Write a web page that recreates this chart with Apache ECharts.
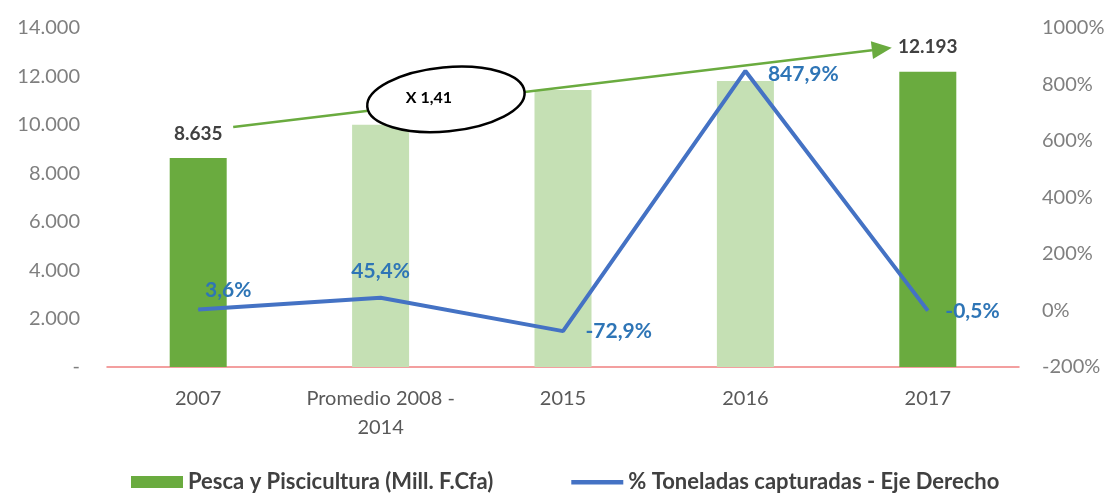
<!DOCTYPE html>
<html><head><meta charset="utf-8">
<script src="https://cdn.jsdelivr.net/npm/echarts@6/dist/echarts.min.js"></script>
<style>html,body{margin:0;padding:0;background:#fff}#c{width:1112px;height:493px}</style>
</head><body><div id="c"></div>
<script>
var categories = ['2007', 'Promedio 2008 -\n2014', '2015', '2016', '2017'];
var barValues = [8635, 10000, 11440, 11810, 12193];
var barColors = ['#6aab3f', '#c5e0b4', '#c5e0b4', '#c5e0b4', '#6aab3f'];
var barLabelShown = [true, false, false, false, true];
var pctValues = [3.6, 45.4, -72.9, 847.9, -0.5];
var leftTicks = [0, 2000, 4000, 6000, 8000, 10000, 12000, 14000];
var rightTicks = [-200, 0, 200, 400, 600, 800, 1000];
var seriesNames = ['Pesca y Piscicultura (Mill. F.Cfa)', '% Toneladas capturadas - Eje Derecho'];
var growthText = 'X 1,41';

var FONT = 'Lato';
function thous(v){ return String(v).replace(/\B(?=(\d{3})+(?!\d))/g, '.'); }
function pct(v){ return v.toFixed(1).replace('.', ',') + '%'; }

var pctLabelPos = [
  {position:'top', offset:[30,-3]},
  {position:'top', offset:[0,-10]},
  {position:'right', offset:[17,0]},
  {position:'right', offset:[17,3]},
  {position:'right', offset:[12,1]}
];

var chart = echarts.init(document.getElementById('c'), null, {renderer:'canvas'});
var option = {
  animation:false,
  textStyle:{fontFamily:FONT},
  grid:{left:107, right:93, top:28, bottom:126},
  legend:{
    left:126, bottom:-5, itemGap:78, itemWidth:52, itemHeight:12,
    textStyle:{fontFamily:FONT, fontSize:22, fontWeight:'bold', color:'#404040'},
    data:[
      {name:seriesNames[0], icon:'rect', itemStyle:{color:'#6aab3f'}},
      {name:seriesNames[1], icon:'path://M0,0h0.01v0.01h-0.01z M0,4h52v4.5h-52z M0,11.99h0.01v0.01h-0.01z',
       itemStyle:{color:'#4472c4'}}
    ]
  },
  xAxis:{
    type:'category', data:categories,
    axisLine:{show:true, lineStyle:{color:'#f08080', width:1.5}},
    axisTick:{show:false},
    axisLabel:{color:'#595959', fontSize:20, fontFamily:FONT, lineHeight:29, margin:17, interval:0}
  },
  yAxis:[
    {type:'value', min:leftTicks[0], max:leftTicks[leftTicks.length-1], interval:2000,
     splitLine:{show:false}, axisLine:{show:false}, axisTick:{show:false},
     axisLabel:{color:'#7f7f7f', fontSize:20, fontFamily:FONT, margin:27,
       formatter:function(v){ return v === 0 ? '-' : thous(v); }}},
    {type:'value', min:rightTicks[0], max:rightTicks[rightTicks.length-1], interval:200,
     splitLine:{show:false}, axisLine:{show:false}, axisTick:{show:false},
     axisLabel:{color:'#7f7f7f', fontSize:20, fontFamily:FONT, margin:23,
       formatter:function(v){ return v + '%'; }}}
  ],
  series:[
    {name:seriesNames[0], type:'bar', yAxisIndex:0, barWidth:57,
     itemStyle:{color:'#6aab3f'},
     data:barValues.map(function(v,i){
       return {value:v, itemStyle:{color:barColors[i]},
         label:{show:barLabelShown[i], position:'top', offset:[0,-10],
           formatter:function(p){return thous(p.value);},
           color:'#404040', fontWeight:'bold', fontSize:19, fontFamily:FONT}};
     })},
    {name:seriesNames[1], type:'line', yAxisIndex:1, symbol:'circle', symbolSize:1, showSymbol:true,
     lineStyle:{color:'#4472c4', width:4}, itemStyle:{color:'#4472c4'},
     z:5,
     data:pctValues.map(function(v,i){
       return {value:v, label:{show:true, position:pctLabelPos[i].position, offset:pctLabelPos[i].offset,
         formatter:function(p){return pct(p.value);},
         color:'#2e75b6', fontWeight:'bold', fontSize:21, fontFamily:FONT}};
     })}
  ]
};
chart.setOption(option);

// annotation arrow + ellipse, anchored to the first and last bars
var p0 = chart.convertToPixel({xAxisIndex:0, yAxisIndex:0}, [0, barValues[0]]);
var p4 = chart.convertToPixel({xAxisIndex:0, yAxisIndex:0}, [4, barValues[4]]);
var sx = p0[0] + 35, sy = p0[1] - 31;
var ex = p4[0] - 36, ey = p4[1] - 24;
var ang = Math.atan2(ey - sy, ex - sx);
var hl = 20, hw = 9;
var bx = ex - hl*Math.cos(ang), by = ey - hl*Math.sin(ang);
var nx = -Math.sin(ang), ny = Math.cos(ang);
var t = 0.323;
var cx = sx + (ex-sx)*t, cy = sy + (ey-sy)*t - 2;
chart.setOption({graphic:[
  {type:'line', shape:{x1:sx, y1:sy, x2:bx, y2:by}, style:{stroke:'#6aab3f', lineWidth:2.5}, z:10},
  {type:'polygon', shape:{points:[[ex,ey],[bx+nx*hw,by+ny*hw],[bx-nx*hw,by-ny*hw]]}, style:{fill:'#6aab3f'}, z:10},
  {type:'ellipse', shape:{cx:cx, cy:cy, rx:79, ry:32}, originX:cx, originY:cy, rotation:-ang*0.8,
   style:{fill:'#fff', stroke:'#000', lineWidth:2.5}, z:11},
  {type:'text', x:cx-17, y:cy-1, z:12,
   style:{text:growthText, fill:'#000', font:'bold 16px ' + FONT, textAlign:'center', textVerticalAlign:'middle'}}
]});
</script></body></html>
